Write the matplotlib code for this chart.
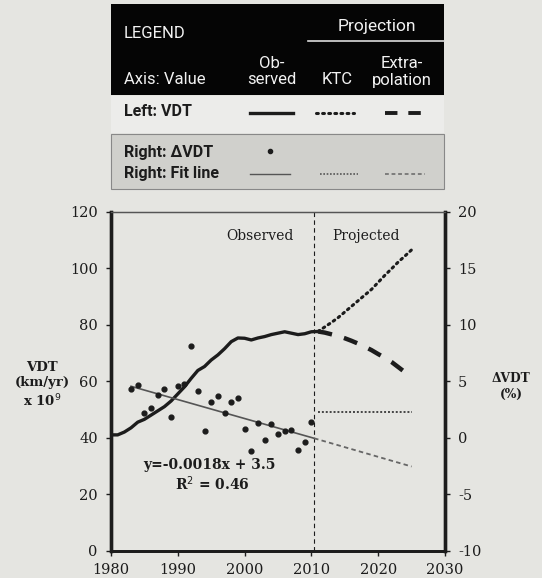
import matplotlib.pyplot as plt
from matplotlib.patches import Rectangle
from matplotlib.lines import Line2D

plt.rcParams['axes.unicode_minus'] = False

# observed VDT, left axis (km/yr x 10^9)
obs_years = list(range(1980, 2012))
obs_vdt = [41, 41, 42, 43.5, 45.5, 46.5, 48, 49.5, 51, 53,
           55.5, 58, 61, 63.8, 65.2, 67.5, 69.3, 71.5, 74, 75.3,
           75.2, 74.6, 75.3, 75.8, 76.5, 77, 77.5, 77, 76.5, 76.8,
           77.5, 77.6]

# projections of VDT, 2011-2025
proj_years = list(range(2011, 2026))
ktc_vdt = [77.6, 79.2, 80.8, 82.5, 84.5, 86.5, 88.5, 90.5, 92.5, 95,
           97.5, 99.8, 102.2, 104.3, 106.5]
extrap_vdt = [77.6, 77.2, 76.6, 76.0, 75.2, 74.3, 73.3, 72.2, 71.0, 69.6,
              68.3, 66.8, 65.0, 63.2, 61.2]

# annual change in VDT, right axis (%)
dvdt_years = list(range(1983, 2011))
dvdt = [4.3, 4.7, 2.2, 2.6, 3.8, 4.3, 1.8, 4.6, 4.75, 8.1,
        4.1, 0.6, 3.2, 3.7, 2.2, 3.2, 3.55, 0.8, -1.15, 1.3,
        -0.2, 1.2, 0.35, 0.6, 0.7, -1.1, -0.35, 1.4]

# fit line and its extensions
fit_years = [1983, 2010.4]
fit_vals = [4.55, -0.05]
fit_ext_years = [2010.4, 2025]
fit_ext_vals = [-0.05, -2.55]
ktc_d_years = [2011, 2025]
ktc_d_vals = [2.25, 2.25]

split_year = 2010.4

bg = '#e5e5e1'
ink = '#1c1c1c'
W, H = 542, 578


def fx(x):
    return x / W


def fy(y):
    return 1 - y / H


fig = plt.figure(figsize=(W / 100, H / 100), dpi=100, facecolor=bg)

serif = 'DejaVu Serif'
sans = 'Roboto'

ax = fig.add_axes([fx(111), 27.3 / H, 334 / W, 339 / H])
ax.set_facecolor(bg)
ax2 = ax.twinx()

ax.plot(obs_years, obs_vdt, color=ink, lw=2.4, solid_capstyle='round')
ax.plot(proj_years, ktc_vdt, color=ink, lw=2.2, ls=(0, (0.6, 1.4)),
        dash_capstyle='round')
ax.plot(proj_years, extrap_vdt, color=ink, lw=3.2, ls=(0, (3.2, 2.8)))
ax.axvline(split_year, color=ink, lw=0.8, ls=(0, (4, 3)))

ax2.scatter(dvdt_years, dvdt, s=12, color=ink, zorder=3)
ax2.plot(fit_years, fit_vals, color='#555555', lw=1.2)
ax2.plot(fit_ext_years, fit_ext_vals, color='#666666', lw=1.3, ls=(0, (2.5, 1.8)))
ax2.plot(ktc_d_years, ktc_d_vals, color='#444444', lw=1.4, ls=(0, (1, 1)))

ax.set_xlim(1980, 2030)
ax.set_ylim(0, 120)
ax2.set_ylim(-10, 20)
ax.set_xticks(range(1980, 2031, 10))
ax.set_yticks(range(0, 121, 20))
ax2.set_yticks(range(-10, 21, 5))

for a in (ax, ax2):
    for s in a.spines.values():
        s.set_color(ink)
    a.spines['left'].set_linewidth(2.4)
    a.spines['right'].set_linewidth(2.4)
    a.spines['bottom'].set_linewidth(2.0)
    a.spines['top'].set_linewidth(0.9)
    a.spines['top'].set_color('#555555')
    a.tick_params(colors=ink, labelsize=10.5, length=3.5, width=1.0, pad=6)
    for lab in a.get_xticklabels() + a.get_yticklabels():
        lab.set_fontfamily(serif)
ax.tick_params(axis='x', pad=5)

ax.text(2002.3, 111.5, 'Observed', family=serif, fontsize=10, color=ink,
        ha='center', va='center')
ax.text(2018.2, 111.5, 'Projected', family=serif, fontsize=10, color=ink,
        ha='center', va='center')
ax.text(1994.7, 30.3, 'y=-0.0018x + 3.5', family=serif, fontsize=10,
        color=ink, ha='center', va='center', fontweight='bold')
ax.text(1995.1, 23.8, 'R$^2$ = 0.46', family=serif, fontsize=10,
        color=ink, ha='center', va='center', fontweight='bold')

fig.text(fx(42), fy(385), 'VDT\n(km/yr)\nx 10$^9$', family=serif, fontsize=9.5,
         fontweight='bold', color=ink, ha='center', va='center', linespacing=1.25)
fig.text(fx(511), fy(386), '\u0394VDT\n(%)', family=serif, fontsize=8.8,
         fontweight='bold', color=ink, ha='center', va='center', linespacing=1.3)

# legend table drawn above the plot
x0, x1 = 111, 444
fig.add_artist(Rectangle((fx(x0), fy(95)), fx(x1) - fx(x0), fy(4) - fy(95),
                         transform=fig.transFigure, facecolor='#050505',
                         edgecolor='none'))
fig.add_artist(Rectangle((fx(x0), fy(133)), fx(x1) - fx(x0), fy(96) - fy(133),
                         transform=fig.transFigure, facecolor='#ececea',
                         edgecolor='none'))
fig.add_artist(Rectangle((fx(x0), fy(189)), fx(x1) - fx(x0), fy(134) - fy(189),
                         transform=fig.transFigure, facecolor='#d0d0cc',
                         edgecolor='#888888', lw=0.8))
fig.add_artist(Line2D([fx(308), fx(x1)], [fy(40.5), fy(40.5)],
                      transform=fig.transFigure, color='#dddddd', lw=1.2))

white = '#f2f2f2'
fig.text(fx(124), fy(33), 'LEGEND', family=sans, fontsize=12, color=white,
         va='center')
fig.text(fx(377), fy(26), 'Projection', family=sans, fontsize=12.5,
         color=white, ha='center', va='center')
fig.text(fx(124), fy(80), 'Axis: Value', family=sans, fontsize=12,
         color=white, va='center')
fig.text(fx(272), fy(63), 'Ob-', family=sans, fontsize=12, color=white,
         ha='center', va='center')
fig.text(fx(272), fy(80), 'served', family=sans, fontsize=12, color=white,
         ha='center', va='center')
fig.text(fx(337), fy(80), 'KTC', family=sans, fontsize=12, color=white,
         ha='center', va='center')
fig.text(fx(402), fy(63), 'Extra-', family=sans, fontsize=12, color=white,
         ha='center', va='center')
fig.text(fx(402), fy(80), 'polation', family=sans, fontsize=12, color=white,
         ha='center', va='center')

fig.text(fx(124), fy(112), 'Left: VDT', family=sans, fontsize=11.5,
         fontweight='bold', color=ink, va='center')
fig.text(fx(124), fy(152), 'Right: \u0394VDT', family=sans, fontsize=11.5,
         fontweight='bold', color=ink, va='center')
fig.text(fx(124), fy(174), 'Right: Fit line', family=sans, fontsize=11.5,
         fontweight='bold', color=ink, va='center')

samples = [
    (250, 293, 113, dict(color=ink, lw=2.4)),
    (316, 354, 113, dict(color=ink, lw=2.2, ls=(0, (0.6, 1.4)),
                         dash_capstyle='round')),
    (385, 425, 113, dict(color=ink, lw=2.8, ls=(0, (3.2, 2.8)))),
    (250, 290, 174, dict(color='#555555', lw=1.0)),
    (320, 358, 174, dict(color='#555555', lw=1.2, ls=(0, (1, 1)))),
    (385, 425, 174, dict(color='#666666', lw=1.1, ls=(0, (2.5, 1.8)))),
]
for xa, xb, yy, kw in samples:
    fig.add_artist(Line2D([fx(xa), fx(xb)], [fy(yy), fy(yy)],
                          transform=fig.transFigure, **kw))
fig.add_artist(Line2D([fx(270)], [fy(151)], transform=fig.transFigure,
                      marker='o', markersize=3, color=ink, ls='none'))

fig.savefig('out.png', dpi=100, facecolor=bg)
